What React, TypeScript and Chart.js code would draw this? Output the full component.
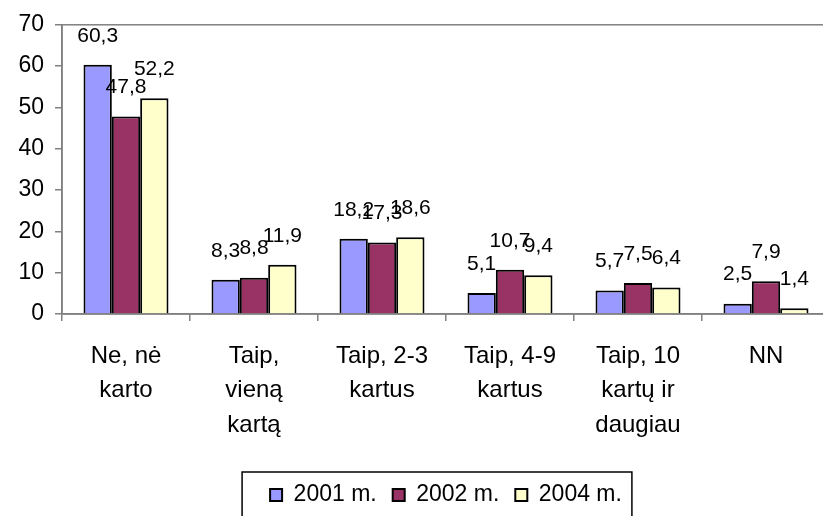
import React, { useEffect, useRef } from "react";
import { Chart, registerables } from "chart.js";

Chart.register(...registerables);

const FONT = "'Liberation Sans', Arial, sans-serif";

const categories: string[][] = [
  ["Ne, nė", "karto"],
  ["Taip,", "vieną", "kartą"],
  ["Taip, 2-3", "kartus"],
  ["Taip, 4-9", "kartus"],
  ["Taip, 10", "kartų ir", "daugiau"],
  ["NN"],
];
const seriesNames = ["2001 m.", "2002 m.", "2004 m."];
const values2001 = [60.3, 8.3, 18.2, 5.1, 5.7, 2.5];
const values2002 = [47.8, 8.8, 17.3, 10.7, 7.5, 7.9];
const values2004 = [52.2, 11.9, 18.6, 9.4, 6.4, 1.4];
const seriesColors = ["#9999FF", "#993366", "#FFFFCC"];
const yMin = 0;
const yMax = 70;
const yStep = 10;

const valueLabels = {
  id: "valueLabels",
  afterDatasetsDraw(chart: any) {
    const ctx = chart.ctx;
    ctx.save();
    ctx.font = `21px ${FONT}`;
    ctx.fillStyle = "#000";
    ctx.textAlign = "center";
    ctx.textBaseline = "middle";
    chart.data.datasets.forEach((ds: any, i: number) => {
      const meta = chart.getDatasetMeta(i);
      meta.data.forEach((bar: any, j: number) => {
        const v = ds.data[j] as number;
        ctx.fillText(v.toFixed(1).replace(".", ","), bar.x, bar.y - 29);
      });
    });
    ctx.restore();
  },
};

const frame = {
  id: "frame",
  beforeDatasetsDraw(chart: any) {
    const { ctx, chartArea } = chart;
    ctx.save();
    ctx.strokeStyle = "#808080";
    ctx.lineWidth = 1.5;
    ctx.strokeRect(chartArea.left, chartArea.top, chartArea.right - chartArea.left, chartArea.bottom - chartArea.top);
    ctx.restore();
  },
  afterDraw(chart: any) {
    const lg = chart.legend;
    if (!lg || !lg.legendHitBoxes || !lg.legendHitBoxes.length) return;
    const hb = lg.legendHitBoxes;
    const first = hb[0];
    const last = hb[hb.length - 1];
    const left = first.left - 28;
    const right = last.left + last.width + 10;
    const top = first.top + first.height / 2 - 23;
    const ctx = chart.ctx;
    ctx.save();
    ctx.strokeStyle = "#000";
    ctx.lineWidth = 1.5;
    ctx.strokeRect(left, top, right - left, 80);
    ctx.restore();
  },
};

export default function App() {
  const ref = useRef<HTMLCanvasElement | null>(null);
  useEffect(() => {
    if (!ref.current) return;
    const all = [values2001, values2002, values2004];
    const chart = new Chart(ref.current, {
      type: "bar",
      data: {
        labels: categories as any,
        datasets: all.map((d, i) => ({
          label: seriesNames[i],
          data: d,
          backgroundColor: seriesColors[i],
          borderColor: "#000",
          borderWidth: 2,
          categoryPercentage: 0.664,
          barPercentage: 1,
        })),
      },
      options: {
        responsive: true,
        maintainAspectRatio: false,
        animation: false,
        layout: { padding: { left: 0, right: 42, top: 23, bottom: 23.5 } },
        plugins: {
          legend: {
            position: "bottom",
            fullSize: false,
            labels: {
              boxWidth: 12,
              boxHeight: 12,
              padding: 16,
              color: "#000",
              font: { family: FONT, size: 23 },
            },
          },
          tooltip: { enabled: false },
        },
        scales: {
          x: {
            grid: {
              display: true,
              drawOnChartArea: false,
              drawTicks: true,
              tickLength: 7,
              color: "#808080",
              lineWidth: 1.5,
              offset: true,
            },
            border: { display: true, color: "#808080", width: 1.5 },
            ticks: {
              color: "#000",
              font: { family: FONT, size: 24, lineHeight: 1.44 },
              padding: 18,
              maxRotation: 0,
              autoSkip: false,
            },
            afterFit: (s: any) => {
              s.height = 153.5;
            },
          },
          y: {
            min: yMin,
            max: yMax,
            grid: {
              display: true,
              drawOnChartArea: false,
              drawTicks: true,
              tickLength: 7,
              color: "#808080",
              lineWidth: 1.5,
            },
            border: { display: true, color: "#808080", width: 1.5 },
            ticks: {
              stepSize: yStep,
              color: "#000",
              font: { family: FONT, size: 23 },
              padding: 11,
            },
            afterFit: (s: any) => {
              s.width = 62;
            },
          },
        },
      },
      plugins: [valueLabels, frame],
    } as any);
    return () => chart.destroy();
  }, []);

  return (
    <div
      style={{
        position: "fixed",
        left: 0,
        top: 0,
        width: 823,
        height: 516,
        overflow: "hidden",
        background: "#fff",
      }}
    >
      <div style={{ position: "relative", width: 872, height: 540 }}>
        <canvas ref={ref} />
      </div>
    </div>
  );
}
